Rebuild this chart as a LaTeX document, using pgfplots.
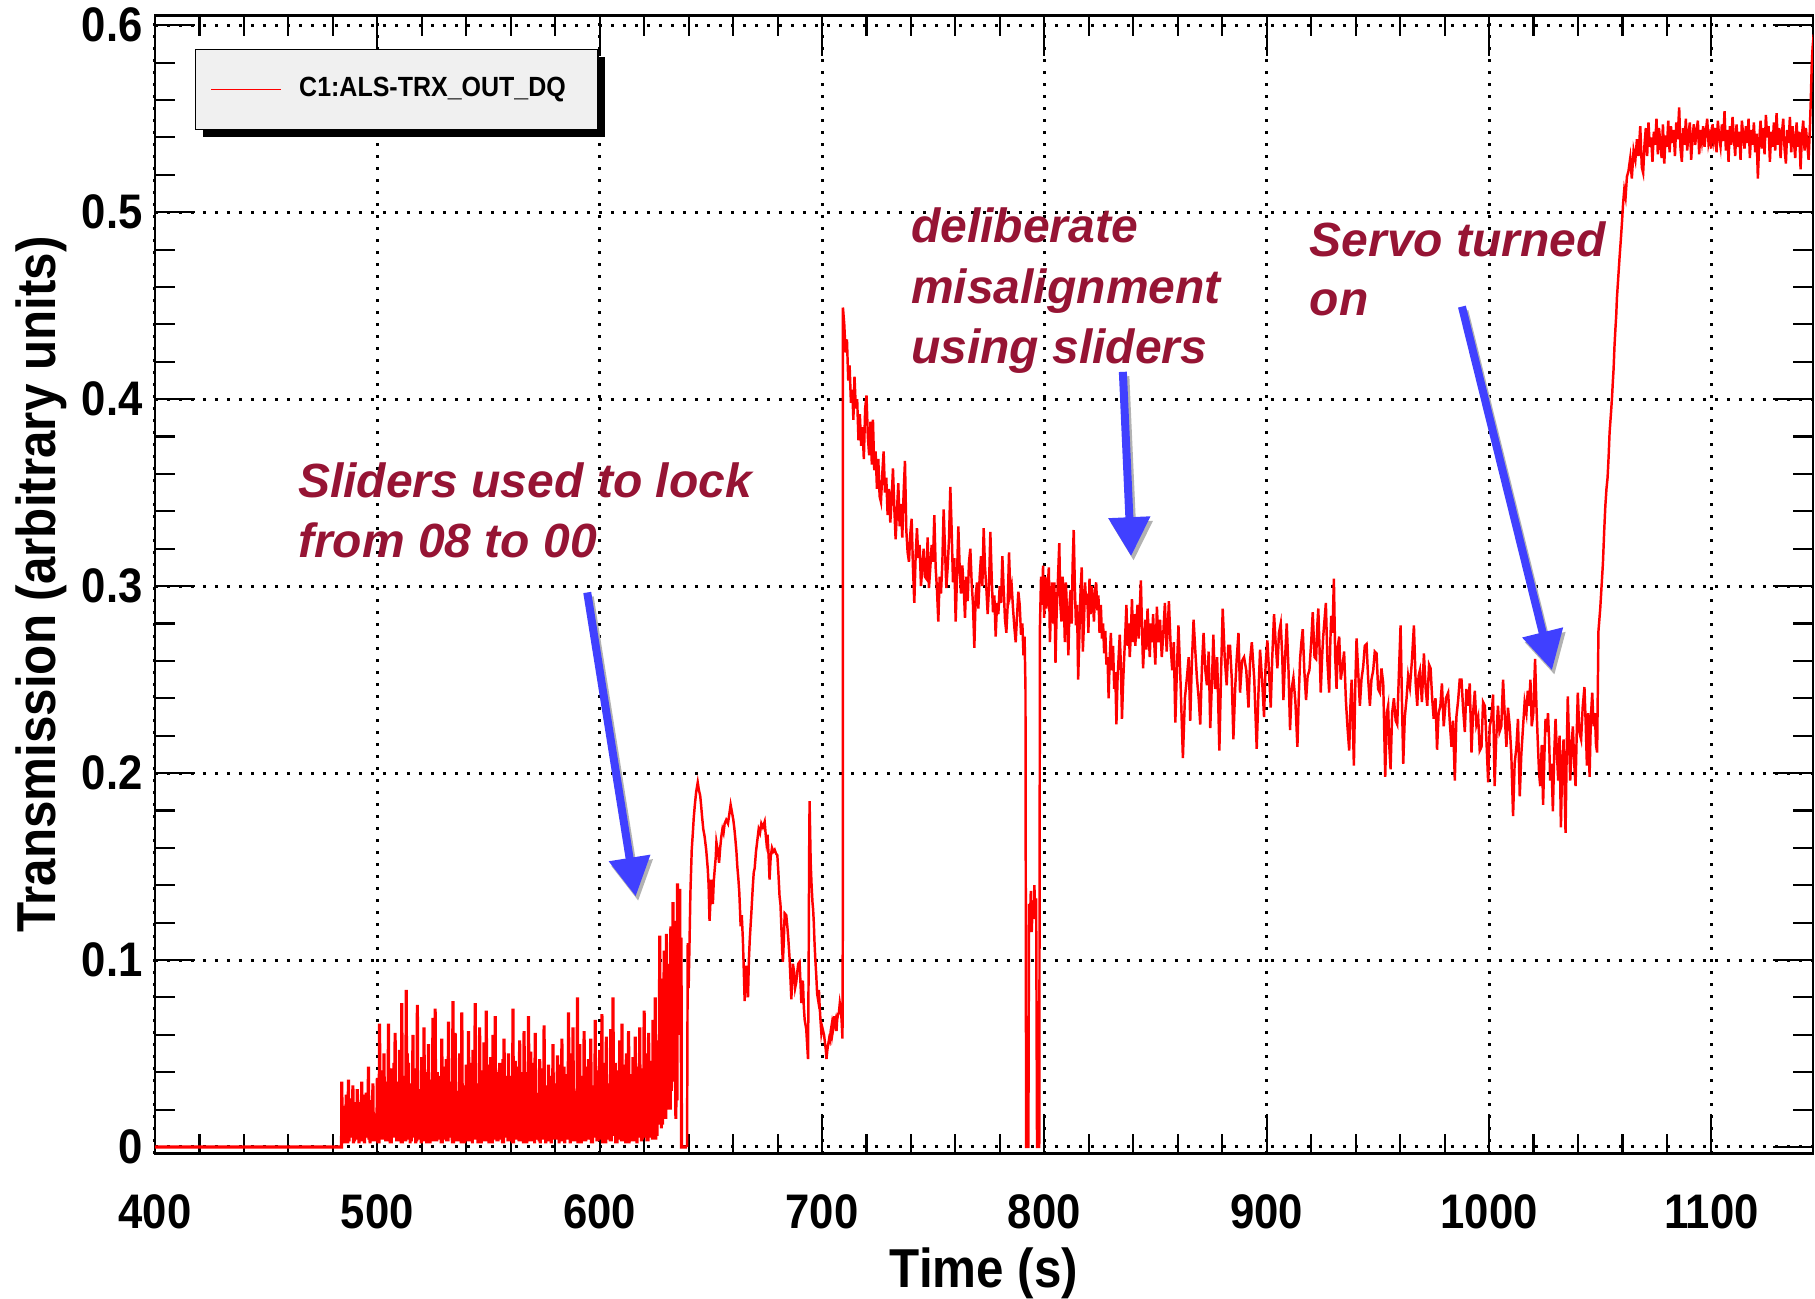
\documentclass[border=0pt]{standalone}
\usepackage{fontspec}
\setmainfont{Liberation Sans}[FakeStretch=0.9]
\newfontfamily\annfont{Liberation Sans}
\usepackage{pgfplots}
\pgfplotsset{compat=1.18}
\usetikzlibrary{arrows.meta,shadows}
\definecolor{ann}{RGB}{150,20,52}
\definecolor{arr}{RGB}{64,64,255}
\makeatletter
\tikzset{nopre/.code={\let\tikz@preactions\pgfutil@empty}}
\makeatother
\begin{document}
\begin{tikzpicture}
\path[use as bounding box] (-15.5mm,-14.5mm) rectangle (166.0mm,115.37mm);
\begin{axis}[
  scale only axis, width=165.8mm, height=113.8mm,
  at={(0,0)}, anchor=south west,
  xmin=400, xmax=1145.7, ymin=-0.0036, ymax=0.6051,
  xtick={400,500,600,700,800,900,1000,1100},
  xticklabels={400,500,600,700,800,900,1000,1100},
  ytick={0,0.1,0.2,0.3,0.4,0.5,0.6},
  yticklabels={0,0.1,0.2,0.3,0.4,0.5,0.6},
  minor x tick num=4, minor y tick num=4,
  tick align=inside,
  major tick length=4mm, minor tick length=2mm,
  every tick/.style={black, line width=0.6pt},
  axis line style={line width=0.8pt},
  grid=major,
  major grid style={black, line width=0.3mm, dash pattern=on 0.3mm off 0.9mm},
  ticklabel style={font=\fontsize{13.8}{16}\selectfont\bfseries},
  xticklabel style={yshift=-2.8mm},
  /pgf/number format/assume math mode=true,
  every axis x label/.style={at={(axis description cs:0.5,-0.1178)}, anchor=base},
  every axis y label/.style={at={(axis description cs:-0.06,0.5)}, anchor=base, rotate=90},
  label style={font=\fontsize{15.6}{18}\selectfont\bfseries},
  xlabel={Time (s)}, ylabel={Transmission (arbitrary units)},
  legend style={at={(axis description cs:0.0241,0.9707)}, anchor=north west,
    draw=black, line width=0.4pt, fill=black!6, inner xsep=1.5mm, inner ysep=2.75mm,
    nodes={inner sep=0pt}, column sep=1.7mm, font=\fontsize{7.9}{9}\selectfont\bfseries,
    drop shadow={shadow xshift=0.7mm, shadow yshift=-0.75mm, fill=black, opacity=1}},
  legend image code/.code={\draw[nopre, #1, line width=0.45pt] (0mm,0mm) -- (7mm,0mm);},
]
\addplot[red, line width=0.9pt] coordinates {
(400,0)(483.9,0)
(484,.035)(484.25,.004)(484.5,.015)(484.75,.003)(485,.012)(485.25,.002)(485.5,.022)(485.75,.006)(486,.028)(486.25,.007)(486.5,.01)(486.75,.002)(487,.036)(487.25,.003)(487.5,.026)(487.75,.005)(488,.018)(488.25,.01)(488.5,.018)(488.75,.009)(489,.033)(489.25,.002)(489.5,.012)(489.75,.003)
(490,.009)(490.25,.005)(490.5,.024)(490.75,.004)(491,.031)(491.25,.013)(491.5,.02)(491.75,.002)(492,.024)(492.25,.003)(492.5,.009)(492.75,.007)(493,.035)(493.25,.006)(493.5,.028)(493.75,.003)(494,.015)(494.25,.002)(494.5,.016)(494.75,.005)(495,.029)(495.25,.008)(495.5,.021)(495.75,.011)(496,.043)(496.25,.004)(496.5,.013)(496.75,.002)(497,.02)(497.25,.016)(497.5,.025)(497.75,.004)(498,.034)(498.25,.003)(498.5,.018)(498.75,.006)(499,.012)(499.25,.005)(499.5,.011)(499.75,.003)
(500,.037)(500.25,.002)(500.5,.03)(500.75,.002)(501,.066)(501.25,.009)(501.5,.022)(501.75,.008)(502,.025)(502.25,.004)(502.5,.041)(502.75,.004)(503,.05)(503.25,.006)(503.5,.018)(503.75,.003)(504,.031)(504.25,.011)(504.5,.035)(504.75,.006)(505,.066)(505.25,.003)(505.5,.027)(505.75,.002)(506,.042)(506.25,.002)(506.5,.015)(506.75,.01)(507,.018)(507.25,.007)(507.5,.045)(507.75,.005)(508,.061)(508.25,.005)(508.5,.024)(508.75,.003)(509,.035)(509.25,.003)(509.5,.033)(509.75,.004)
(510,.052)(510.25,.014)(510.5,.02)(510.75,.002)(511,.077)(511.25,.002)(511.5,.038)(511.75,.007)(512,.028)(512.25,.006)(512.5,.029)(512.75,.003)(513,.084)(513.25,.004)(513.5,.05)(513.75,.006)(514,.045)(514.25,.009)(514.5,.021)(514.75,.002)(515,.022)(515.25,.003)(515.5,.034)(515.75,.005)(516,.06)(516.25,.005)(516.5,.026)(516.75,.009)(517,.038)(517.25,.002)(517.5,.042)(517.75,.003)(518,.076)(518.25,.012)(518.5,.017)(518.75,.004)(519,.03)(519.25,.004)(519.5,.031)(519.75,.002)
(520,.048)(520.25,.007)(520.5,.025)(520.75,.006)(521,.064)(521.25,.003)(521.5,.04)(521.75,.003)(522,.02)(522.25,.002)(522.5,.019)(522.75,.005)(523,.055)(523.25,.01)(523.5,.036)(523.75,.002)(524,.036)(524.25,.005)(524.5,.028)(524.75,.008)(525,.069)(525.25,.003)(525.5,.047)(525.75,.004)(526,.074)(526.25,.018)(526.5,.022)(526.75,.003)(527,.04)(527.25,.004)(527.5,.032)(527.75,.006)(528,.025)(528.25,.006)(528.5,.038)(528.75,.002)(529,.058)(529.25,.002)(529.5,.016)(529.75,.012)
(530,.033)(530.25,.008)(530.5,.043)(530.75,.004)(531,.047)(531.25,.003)(531.5,.027)(531.75,.003)(532,.067)(532.25,.005)(532.5,.035)(532.75,.005)(533,.022)(533.25,.012)(533.5,.02)(533.75,.002)(534,.078)(534.25,.002)(534.5,.048)(534.75,.007)(535,.061)(535.25,.004)(535.5,.03)(535.75,.003)(536,.03)(536.25,.007)(536.5,.024)(536.75,.004)(537,.05)(537.25,.003)(537.5,.039)(537.75,.002)(538,.072)(538.25,.009)(538.5,.018)(538.75,.006)(539,.026)(539.25,.002)(539.5,.033)(539.75,.009)
(540,.044)(540.25,.005)(540.5,.037)(540.75,.003)(541,.062)(541.25,.015)(541.5,.021)(541.75,.005)(542,.035)(542.25,.003)(542.5,.045)(542.75,.002)(543,.052)(543.25,.006)(543.5,.028)(543.75,.004)(544,.077)(544.25,.004)(544.5,.034)(544.75,.007)(545,.028)(545.25,.002)(545.5,.019)(545.75,.003)(546,.064)(546.25,.01)(546.5,.041)(546.75,.002)(547,.041)(547.25,.005)(547.5,.026)(547.75,.006)(548,.056)(548.25,.003)(548.5,.03)(548.75,.004)(549,.073)(549.25,.008)(549.5,.044)(549.75,.003)
(550,.02)(550.25,.002)(550.5,.023)(550.75,.01)(551,.048)(551.25,.006)(551.5,.036)(551.75,.002)(552,.06)(552.25,.013)(552.5,.017)(552.75,.005)(553,.07)(553.25,.004)(553.5,.04)(553.75,.003)(554,.033)(554.25,.003)(554.5,.029)(554.75,.004)(555,.045)(555.25,.007)(555.5,.025)(555.75,.008)(556,.024)(556.25,.002)(556.5,.047)(556.75,.002)(557,.058)(557.25,.011)(557.5,.02)(557.75,.006)(558,.038)(558.25,.005)(558.5,.032)(558.75,.003)(559,.05)(559.25,.003)(559.5,.027)(559.75,.005)
(560,.027)(560.25,.006)(560.5,.038)(560.75,.002)(561,.074)(561.25,.002)(561.5,.022)(561.75,.004)(562,.046)(562.25,.009)(562.5,.035)(562.75,.007)(563,.03)(563.25,.004)(563.5,.043)(563.75,.003)(564,.057)(564.25,.016)(564.5,.018)(564.75,.005)(565,.04)(565.25,.003)(565.5,.031)(565.75,.002)(566,.062)(566.25,.005)(566.5,.026)(566.75,.009)(567,.022)(567.25,.002)(567.5,.04)(567.75,.004)(568,.07)(568.25,.008)(568.5,.021)(568.75,.003)(569,.051)(569.25,.006)(569.5,.036)(569.75,.006)
(570,.035)(570.25,.003)(570.5,.045)(570.75,.002)(571,.061)(571.25,.012)(571.5,.024)(571.75,.005)(572,.028)(572.25,.004)(572.5,.029)(572.75,.003)(573,.047)(573.25,.002)(573.5,.019)(573.75,.008)(574,.039)(574.25,.007)(574.5,.042)(574.75,.004)(575,.065)(575.25,.005)(575.5,.033)(575.75,.002)(576,.025)(576.25,.003)(576.5,.025)(576.75,.006)(577,.044)(577.25,.01)(577.5,.038)(577.75,.003)(578,.036)(578.25,.002)(578.5,.02)(578.75,.011)(579,.055)(579.25,.006)(579.5,.034)(579.75,.004)
(580,.03)(580.25,.004)(580.5,.027)(580.75,.005)(581,.049)(581.25,.014)(581.5,.044)(581.75,.002)(582,.021)(582.25,.003)(582.5,.023)(582.75,.006)(583,.058)(583.25,.005)(583.5,.032)(583.75,.003)(584,.043)(584.25,.002)(584.5,.039)(584.75,.004)(585,.033)(585.25,.009)(585.5,.018)(585.75,.008)(586,.072)(586.25,.004)(586.5,.035)(586.75,.002)(587,.05)(587.25,.007)(587.5,.046)(587.75,.005)(588,.064)(588.25,.003)(588.5,.025)(588.75,.003)(589,.027)(589.25,.011)(589.5,.03)(589.75,.007)
(590,.08)(590.25,.002)(590.5,.04)(590.75,.004)(591,.055)(591.25,.005)(591.5,.021)(591.75,.002)(592,.038)(592.25,.006)(592.5,.037)(592.75,.006)(593,.062)(593.25,.003)(593.5,.028)(593.75,.003)(594,.031)(594.25,.017)(594.5,.043)(594.75,.009)(595,.047)(595.25,.004)(595.5,.019)(595.75,.004)(596,.058)(596.25,.002)(596.5,.033)(596.75,.002)(597,.024)(597.25,.008)(597.5,.026)(597.75,.005)(598,.068)(598.25,.005)(598.5,.041)(598.75,.003)(599,.04)(599.25,.003)(599.5,.024)(599.75,.006)
(600,.052)(600.25,.01)(600.5,.036)(600.75,.004)(601,.071)(601.25,.002)(601.5,.029)(601.75,.007)(602,.035)(602.25,.006)(602.5,.045)(602.75,.002)(603,.059)(603.25,.004)(603.5,.02)(603.75,.005)(604,.026)(604.25,.013)(604.5,.034)(604.75,.003)(605,.063)(605.25,.003)(605.5,.038)(605.75,.006)(606,.08)(606.25,.007)(606.5,.023)(606.75,.01)(607,.045)(607.25,.002)(607.5,.041)(607.75,.002)(608,.03)(608.25,.005)(608.5,.027)(608.75,.004)(609,.057)(609.25,.009)(609.5,.032)(609.75,.003)
(610,.066)(610.25,.003)(610.5,.019)(610.75,.005)(611,.038)(611.25,.004)(611.5,.044)(611.75,.002)(612,.05)(612.25,.012)(612.5,.03)(612.75,.008)(613,.062)(613.25,.002)(613.5,.025)(613.75,.004)(614,.027)(614.25,.006)(614.5,.039)(614.75,.003)(615,.048)(615.25,.003)(615.5,.022)(615.75,.006)(616,.059)(616.25,.008)(616.5,.035)(616.75,.002)(617,.033)(617.25,.005)(617.5,.043)(617.75,.005)(618,.064)(618.25,.011)(618.5,.028)(618.75,.003)(619,.042)(619.25,.004)(619.5,.031)(619.75,.007)
(620,.073)(620.25,.007)(620.5,.04)(620.75,.005)(621,.05)(621.25,.003)(621.5,.026)(621.75,.003)(622,.061)(622.25,.015)(622.5,.046)(622.75,.008)(623,.036)(623.25,.005)(623.5,.033)(623.75,.004)(624,.068)(624.25,.009)(624.5,.05)(624.75,.01)(625,.08)(625.25,.004)(625.5,.038)(625.75,.006)(626,.057)(626.25,.012)(626.5,.045)(626.75,.02)(627,.113)(627.25,.035)(627.5,.06)(627.75,.01)(628,.09)(628.25,.012)(628.5,.075)(628.75,.03)(629,.105)(629.25,.05)(629.5,.052)(629.75,.015)
(630,.114)(630.25,.02)(630.5,.085)(630.75,.04)(631,.098)(631.25,.06)(631.5,.065)(631.75,.02)(632,.118)(632.25,.03)(632.5,.07)(632.75,.035)(633,.131)(633.25,.045)(633.5,.09)(633.75,.05)(634,.121)(634.25,.015)(634.5,.06)(634.75,.025)(635,.141)(635.25,.07)(635.5,.1)(635.75,.06)(636,.138)(636.2,.06)(636.4,.1)(636.6,.112)(636.8,0)(639.3,0)
};
\addlegendentry{C1:ALS-TRX\_OUT\_DQ\kern1.7mm}
\addplot[red, line width=0.7pt, forget plot] coordinates {
(639.3,0)(639.6,.109)(640,.085)(640.4,.109)(640.8,.136)(641.4,.159)(641.9,.168)(642.3,.176)(642.8,.183)(643.4,.19)(644.1,.195)(644.6,.191)(645.2,.188)(645.6,.183)(646.1,.176)(646.6,.17)(647.2,.166)(647.9,.159)(648.6,.149)(649,.14)(649.4,.121)(649.7,.128)(650.1,.143)(650.6,.135)(650.9,.13)(651.3,.142)(651.7,.148)(652.2,.155)(652.5,.163)(653.2,.158)(653.7,.152)(654.2,.16)(654.7,.166)(655.2,.17)(655.7,.168)(656.2,.173)(656.9,.175)(657.7,.173)(658.3,.178)(658.9,.183)(659.5,.179)(660.1,.175)(660.6,.17)(661,.165)(661.5,.158)(661.9,.15)(662.4,.143)(662.8,.136)(663.4,.118)(663.9,.124)(664.4,.111)(664.8,.095)(665.2,.078)(665.6,.092)(666,.097)(666.3,.088)(666.7,.08)(667.1,.1)(667.5,.111)(668.2,.125)(668.9,.14)(669.3,.147)(669.7,.149)(670.3,.158)(671,.165)(671.5,.17)(672.1,.168)(672.7,.173)(673.4,.171)(674.2,.174)(674.6,.168)(675,.163)(675.5,.167)(676,.155)(676.4,.143)(676.9,.155)(677.5,.16)(678.1,.158)(678.7,.159)(679.3,.157)(679.9,.156)(680.4,.146)(680.9,.134)(681.3,.13)(681.7,.118)(682.1,.105)(682.4,.099)(682.8,.11)(683.2,.125)(683.9,.124)(684.4,.118)(684.8,.112)(685.4,.101)(685.8,.09)(686.2,.079)(686.6,.09)(686.9,.098)(687.4,.094)(687.9,.085)(688.4,.088)(688.9,.094)(689.3,.098)(689.9,.099)(690.3,.088)(690.7,.077)(691,.085)(691.4,.089)(691.8,.075)(692.2,.068)(692.9,.063)(693.3,.055)(693.7,.047)(694,.1)(694.2,.155)(694.4,.185)(694.7,.165)(694.9,.152)(695.3,.14)(695.7,.131)(696,.127)(696.3,.12)(696.6,.11)(697,.1)(697.4,.092)(697.8,.082)(698.2,.079)(698.6,.084)(698.9,.076)(699.3,.068)(699.7,.061)(700.1,.064)(700.5,.062)(700.9,.06)(701.3,.056)(701.7,.052)(702,.047)(702.4,.052)(702.8,.055)(703.2,.058)(703.5,.057)(703.9,.062)(704.3,.065)(704.6,.06)(705,.063)(705.4,.07)(705.7,.066)(706.1,.068)(706.5,.062)(706.8,.068)(707.2,.071)(707.6,.072)(708,.077)(708.4,.074)(708.8,.068)(709.2,.058)(709.35,.12)
(709.4,.449)(710,.44)(710.6,.425)(711.2,.432)(711.8,.41)(712.4,.418)(713,.398)(713.6,.405)(714.1,.389)(714.6,.412)(715.2,.395)(715.8,.4)(716.4,.378)(717,.392)(717.6,.375)(718.2,.385)(718.8,.368)(719.4,.395)(720,.402)(720.6,.38)(721.2,.37)(721.8,.388)(722.4,.365)(722.9,.389)(723.5,.362)(724.1,.372)(724.7,.352)(725.3,.368)(725.9,.348)(726.5,.345)(727.1,.36)(727.7,.372)(728.3,.35)(728.9,.358)(729.5,.338)(730.1,.352)(730.7,.334)(731.3,.346)(731.9,.363)(732.5,.342)(733.1,.325)(733.7,.34)(734.3,.355)(734.9,.332)(735.5,.344)(736.1,.326)(736.7,.35)(737.3,.367)(737.9,.33)(738.5,.318)(739.1,.313)(739.7,.328)(740.3,.336)(740.9,.31)(741.5,.291)(742.1,.316)(742.7,.331)(743.3,.315)(743.9,.322)(744.5,.3)(745.1,.31)(745.7,.32)(746.3,.305)(746.9,.304)(747.5,.326)(748.1,.299)(748.7,.31)(749.3,.322)(749.9,.313)(750.5,.338)(751.1,.31)(751.7,.298)(752.3,.281)(752.9,.305)(753.5,.296)(754.1,.312)(754.7,.341)(755.3,.32)(755.9,.299)(756.5,.31)(757.1,.325)(757.7,.353)(758.3,.33)(758.9,.302)(759.5,.315)(760.1,.281)(760.7,.305)(761.3,.332)(761.9,.31)(762.5,.296)(763.1,.311)(763.7,.3)(764.3,.283)(764.9,.305)(765.5,.292)(766.1,.313)(766.7,.32)(767.3,.302)(767.9,.29)(768.5,.267)(769.1,.295)(769.7,.302)(770.3,.288)(770.9,.305)(771.5,.316)(772.1,.3)(772.7,.331)(773.3,.31)(773.9,.299)(774.5,.285)(775.1,.3)(775.7,.329)(776.3,.305)(776.9,.286)(777.5,.295)(778.1,.273)(778.7,.291)(779.3,.285)(779.9,.3)(780.5,.291)(781.1,.316)(781.7,.298)(782.3,.282)(782.9,.275)(783.5,.29)(784.1,.318)(784.7,.296)(785.3,.3)(785.9,.288)(786.5,.278)(787.1,.27)(787.7,.284)(788.3,.297)(788.9,.29)(789.5,.274)(790.1,.28)(790.6,.263)(791.1,.273)(791.5,.245)
(791.8,0)(792.8,0)(793.1,.13)(793.5,.12)(793.9,.137)(794.3,.115)(794.7,.128)(795.1,.122)(795.5,.14)(795.9,.125)(796.3,.133)(796.7,0)(797.7,0)
(798,.278)(798.5,.305)(799,.29)(799.4,.311)(799.9,.283)(800.4,.305)(800.9,.288)(801.5,.299)(802,.31)(802.5,.27)(803,.29)(803.5,.302)(804,.28)(804.5,.302)(805,.259)(805.5,.285)(806,.3)(806.7,.323)(807.2,.29)(807.7,.281)(808.2,.305)(808.7,.295)(809.2,.27)(809.7,.302)(810.2,.285)(810.8,.263)(811.3,.29)(811.8,.298)(812.3,.28)(812.7,.311)(813.2,.33)(813.7,.3)(814.2,.279)(814.7,.29)(815.2,.25)(815.7,.272)(816.2,.295)(816.8,.31)(817.3,.265)(817.8,.28)(818.3,.302)(818.8,.29)(819.3,.296)(819.8,.275)(820.3,.304)(820.8,.285)(821.3,.3)(821.8,.292)(822.3,.281)(822.8,.298)(823.3,.302)(823.8,.287)(824.3,.295)(824.8,.275)(825.4,.29)(825.9,.272)(826.4,.28)(826.9,.264)(827.4,.276)(827.9,.258)(828.4,.262)(828.9,.24)(829.4,.262)(829.9,.275)(830.4,.255)(830.9,.268)(831.4,.245)(831.9,.254)(832.4,.226)(832.9,.25)(833.4,.262)(833.9,.274)(834.4,.258)(834.9,.229)(835.4,.248)(835.9,.262)(836.4,.275)(836.9,.29)(837.4,.268)(837.9,.28)(838.4,.262)(838.9,.275)(839.4,.293)(839.9,.27)(840.4,.285)(840.9,.268)(841.4,.281)(841.9,.29)(842.4,.272)(842.9,.288)(843.4,.303)(843.9,.278)(844.4,.256)(844.9,.27)(845.4,.282)(845.9,.266)(846.4,.288)(846.9,.275)(847.4,.262)(847.9,.28)(848.4,.27)(848.9,.285)(849.4,.27)(849.9,.258)(850.4,.279)
(850.6,.289)(851.3,.27)(852,.282)(852.8,.262)(853.5,.275)(854.2,.291)(855,.265)(855.6,.28)(856,.292)(856.8,.268)(857.5,.255)(858.2,.27)(858.9,.227)(859.6,.255)(860.3,.279)(861.2,.25)(862.3,.208)(863.2,.24)(864.1,.251)(864.9,.262)(865.6,.228)(866.3,.258)(867.1,.282)(867.9,.265)(868.6,.251)(869.4,.24)(870.1,.226)(870.9,.258)(871.6,.275)(872.3,.256)(873.1,.247)(873.9,.265)(874.6,.224)(875.4,.25)(876,.274)(876.8,.245)(877.7,.262)(878.7,.212)(879.4,.25)(880.2,.288)(881.1,.262)(882,.247)(882.7,.268)(883.5,.268)(884.3,.25)(885,.218)(885.8,.245)(886.5,.261)(887.3,.275)(888,.243)(888.9,.26)(889.8,.262)(890.8,.255)(891.8,.235)(892.5,.26)(893.3,.27)(894.4,.25)(895.5,.213)(896.2,.24)(897,.266)(898,.248)(898.8,.23)(899.5,.258)(900.3,.271)(901,.255)(901.8,.235)(902.5,.262)(903.3,.285)(904,.27)(904.8,.256)(905.5,.275)(906.3,.28)(907,.262)(907.5,.239)(908.2,.26)(909,.28)(909.8,.255)(910.5,.223)(911.2,.245)(912,.251)(912.9,.238)(913.8,.214)(914.4,.24)(915,.261)(915.6,.27)(916.2,.277)(916.9,.255)(917.7,.239)(918.4,.252)(919.2,.255)(920,.27)(920.7,.286)(921.5,.262)(922.2,.261)(922.8,.28)(923.2,.288)(923.8,.265)(924.3,.243)(924.9,.262)(925.4,.273)(926,.282)(926.6,.291)(927.3,.26)(928.1,.243)(928.6,.27)(929,.284)(929.6,.275)(930.2,.304)(930.8,.262)(931.4,.245)(932,.268)(932.6,.273)(933.3,.25)(934.1,.257)(934.8,.265)(935.6,.239)(936.3,.225)(937.1,.212)(937.7,.238)(938.2,.25)(938.7,.228)(939.2,.204)(939.8,.245)(940.4,.272)(941.1,.255)(941.9,.236)(942.6,.25)(943.4,.257)(944.1,.268)(944.9,.269)(945.6,.251)(946.4,.236)(947.1,.25)(947.9,.255)(948.6,.265)(949.4,.264)(950.1,.245)(950.9,.243)(951.6,.256)(952.4,.248)(953.3,.198)(954,.232)(954.6,.236)(955.1,.215)(955.7,.202)(956.4,.232)(957.2,.24)(958,.228)(958.7,.226)(959.5,.255)(960.2,.279)(960.8,.24)(961.4,.205)(962.1,.23)(962.9,.24)(963.6,.252)(964.4,.246)(965.3,.26)(966.2,.279)(967,.248)(967.7,.236)(968.3,.252)(968.9,.255)(969.8,.238)(970.7,.264)(971.5,.245)(972.2,.236)(973,.258)(973.7,.256)(974.4,.24)(975.1,.229)(975.9,.24)(976.6,.2125)(977.3,.232)(978.1,.236)(978.8,.248)(979.6,.225)(980.6,.24)(981.6,.243)(982.3,.228)(983.1,.214)(983.8,.228)(984.6,.196)(985.3,.23)(986.1,.239)(986.8,.25)(987.6,.25)(988.3,.235)(989.1,.222)(989.8,.245)(990.6,.236)(991.3,.248)(992.1,.211)(992.8,.232)(993.6,.244)(994.3,.226)(995.1,.23)(995.8,.212)(996.6,.214)(997.3,.238)(998.1,.236)(998.8,.218)(999.6,.195)
(1000.3,.225)(1001,.229)(1001.8,.242)(1002.5,.193)(1003.2,.218)(1004,.236)(1004.7,.222)(1005.5,.225)(1006.3,.25)(1007,.232)(1007.8,.214)(1008.5,.235)(1009.3,.225)(1010,.21)(1010.8,.177)(1011.5,.205)(1012.3,.214)(1013,.229)(1013.8,.1875)(1014.5,.21)(1015.3,.225)(1016,.238)(1016.8,.232)(1017.4,.244)(1018,.236)(1018.6,.25)(1019.2,.225)(1019.9,.232)(1020.7,.261)(1021.3,.236)(1022,.214)(1022.5,.2)(1023,.193)(1023.7,.215)(1024.3,.183)(1024.9,.21)(1025.4,.229)(1026,.222)(1026.5,.232)(1027,.218)(1027.5,.196)(1028.1,.205)(1028.7,.1795)(1029.3,.21)(1029.9,.229)(1030.5,.211)(1031.1,.196)(1031.7,.22)(1032.3,.171)(1032.9,.205)(1033.5,.218)(1034,.19)(1034.4,.168)(1034.9,.21)(1035.4,.241)(1035.9,.22)(1036.5,.196)(1037.1,.215)(1037.7,.225)(1038.3,.205)(1038.9,.193)(1039.4,.22)(1039.9,.243)(1040.6,.222)(1041.4,.218)(1042.1,.235)(1042.9,.246)(1043.5,.225)(1044,.204)(1044.6,.232)(1045.2,.198)(1045.8,.23)(1046.4,.243)(1047,.225)(1047.6,.232)(1048.1,.215)(1048.6,.211)
(1049.2,.276)(1050,.288)(1050.6,.3)(1051.2,.312)(1051.8,.33)(1052.3,.343)(1052.8,.352)(1053.3,.358)(1053.8,.37)(1054.2,.382)(1054.8,.392)(1055.3,.401)(1055.7,.41)(1056,.416)(1056.4,.428)(1056.8,.437)(1057.2,.445)(1057.5,.454)(1058.1,.465)(1058.7,.476)(1059.3,.486)(1059.8,.495)(1060.3,.505)(1060.8,.512)(1061.4,.508)(1062,.519)(1062.7,.522)(1063.5,.529)(1064.2,.518)(1065,.533)(1065.8,.528)(1066.5,.539)(1067.2,.53)(1068,.546)(1068.7,.524)(1069.3,.521)(1069.9,.536)
(1070.5,.545)(1071.1,.53)(1071.7,.548)(1072.3,.535)(1072.9,.54)(1073.5,.527)(1074.1,.543)(1074.7,.536)(1075.3,.55)(1075.9,.531)(1076.4,.545)(1077,.538)(1077.6,.529)(1078.2,.547)(1078.8,.526)(1079.4,.541)(1080,.535)(1080.6,.549)(1081.2,.532)(1081.8,.546)(1082.4,.537)(1083,.544)(1083.6,.53)(1084.2,.548)(1084.8,.539)(1085.5,.556)(1086.1,.534)(1086.7,.527)(1087.3,.545)(1087.9,.536)(1088.5,.55)(1089.1,.533)(1089.7,.542)(1090.3,.548)(1090.9,.528)(1091.5,.54)(1092.1,.547)(1092.7,.536)(1093.3,.543)(1093.9,.549)(1094.5,.531)(1095.1,.544)(1095.7,.538)(1096.3,.546)(1096.9,.535)(1097.5,.543)(1098.1,.55)(1098.7,.537)(1099.3,.541)(1099.9,.534)
(1100.5,.547)(1101.1,.539)(1101.7,.545)(1102.3,.532)(1102.9,.549)(1103.5,.54)(1104.1,.535)(1104.7,.547)(1105.3,.538)(1105.9,.554)(1106.5,.533)(1107.1,.544)(1107.7,.527)(1108.3,.546)(1108.9,.536)(1109.5,.551)(1110.1,.54)(1110.7,.53)(1111.3,.547)(1111.9,.535)(1112.5,.543)(1113.1,.528)(1113.7,.549)(1114.3,.541)(1114.9,.534)(1115.5,.546)(1116.1,.537)(1116.7,.55)(1117.3,.529)(1117.9,.544)(1118.5,.536)(1119.1,.548)(1119.7,.532)(1120.3,.542)(1120.9,.518)(1121.5,.538)(1122.1,.549)(1122.7,.534)(1123.3,.545)(1123.9,.531)(1124.5,.552)(1125.1,.54)(1125.7,.546)(1126.3,.527)(1126.9,.543)(1127.5,.535)(1128.1,.548)(1128.7,.533)(1129.3,.553)(1129.9,.536)(1130.5,.545)(1131.1,.529)(1131.7,.542)(1132.3,.55)(1132.9,.534)(1133.5,.526)(1134.1,.544)(1134.7,.537)(1135.3,.551)(1135.9,.532)(1136.5,.546)(1137.1,.538)(1137.7,.529)(1138.3,.548)(1138.9,.535)(1139.5,.543)(1140.1,.523)(1140.7,.541)(1141.3,.549)(1141.9,.533)(1142.5,.545)(1143.1,.537)(1143.7,.528)(1144.2,.542)(1144.7,.56)(1145.1,.578)(1145.5,.588)(1146,.595)
};

% arrows (shadow first, then blue)
\draw[black!30, line width=0.8mm, -{Triangle[width=4mm,length=3.9mm]}, xshift=0.25mm, yshift=-0.45mm] (axis cs:594.4,0.2966) -- (axis cs:616.2,0.134);
\draw[arr, line width=0.8mm, -{Triangle[width=4mm,length=3.9mm]}] (axis cs:594.4,0.2966) -- (axis cs:616.2,0.134);
\draw[black!30, line width=0.8mm, -{Triangle[width=4mm,length=3.9mm]}, xshift=0.25mm, yshift=-0.45mm] (axis cs:835.3,0.4146) -- (axis cs:839.0,0.316);
\draw[arr, line width=0.8mm, -{Triangle[width=4mm,length=3.9mm]}] (axis cs:835.3,0.4146) -- (axis cs:839.0,0.316);
\draw[black!30, line width=0.8mm, -{Triangle[width=4mm,length=3.9mm]}, xshift=0.25mm, yshift=-0.45mm] (axis cs:987.8,0.4495) -- (axis cs:1028.3,0.255);
\draw[arr, line width=0.8mm, -{Triangle[width=4mm,length=3.9mm]}] (axis cs:987.8,0.4495) -- (axis cs:1028.3,0.255);

% annotations
\tikzset{annot/.style={anchor=base west, inner sep=0pt, text=ann, font=\annfont\bfseries\itshape\fontsize{13.66}{16}\selectfont}}
\node[annot] at (axis cs:464.1,0.3474) {Sliders used to lock};
\node[annot] at (axis cs:464.1,0.3152) {from 08 to 00};
\node[annot] at (axis cs:739.8,0.4836) {deliberate};
\node[annot] at (axis cs:739.8,0.4514) {misalignment};
\node[annot] at (axis cs:739.8,0.4192) {using sliders};
\node[annot] at (axis cs:919.0,0.4762) {Servo turned};
\node[annot] at (axis cs:919.0,0.4446) {on};
\end{axis}
\end{tikzpicture}
\end{document}
